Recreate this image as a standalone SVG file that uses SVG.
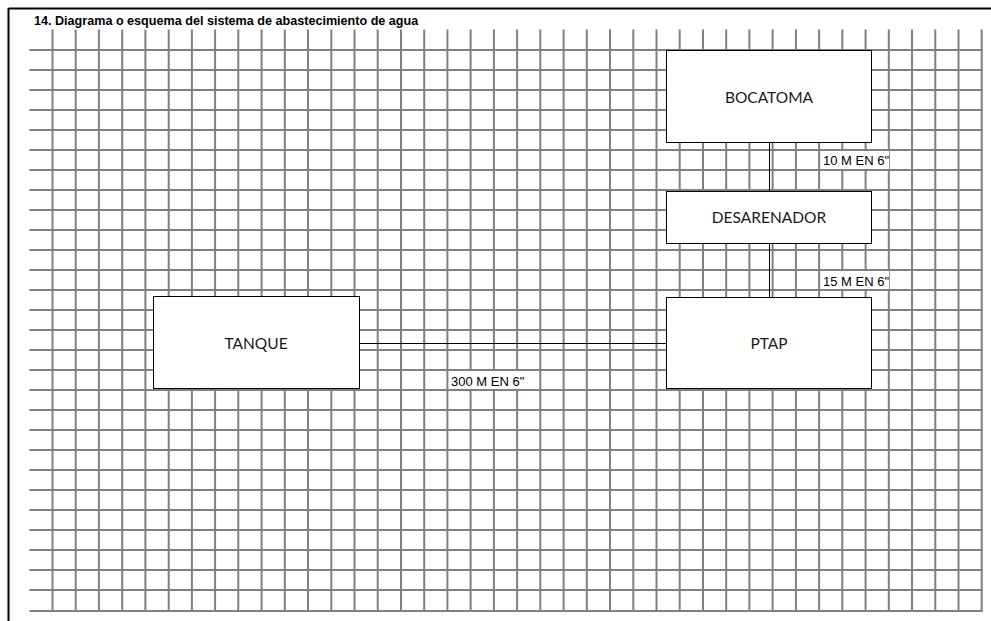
<svg xmlns="http://www.w3.org/2000/svg" width="991" height="621" viewBox="0 0 991 621">
<style>
.grid{stroke:#808080;stroke-width:2;fill:none}
.frame{stroke:#000;stroke-width:2;fill:none}
.box{fill:#fff;stroke:#000;stroke-width:1}
.lbl{fill:#fff;stroke:none}
.nt{font-family:Lato,"Open Sans",sans-serif;font-size:15.5px;fill:#1a1a1a;text-anchor:middle}
.et{font-family:"Liberation Sans",Arial,sans-serif;font-size:13px;fill:#000}
.title{font-family:"Liberation Sans",Arial,sans-serif;font-size:12.6px;font-weight:bold;fill:#000}
.conn{stroke:#000;stroke-width:1;fill:none}
</style>
<rect width="991" height="621" fill="#fff"/>
<g id="grid" class="grid">
<path d="M52.5 29.5V611.5M75.7 29.5V611.5M98.9 29.5V611.5M122.2 29.5V611.5M145.4 29.5V611.5M168.7 29.5V611.5M191.9 29.5V611.5M215.1 29.5V611.5M238.3 29.5V611.5M261.6 29.5V611.5M284.8 29.5V611.5M308 29.5V611.5M331.3 29.5V611.5M354.5 29.5V611.5M377.7 29.5V611.5M401 29.5V611.5M424.2 29.5V611.5M447.4 29.5V611.5M470.6 29.5V611.5M493.9 29.5V611.5M517.1 29.5V611.5M540.3 29.5V611.5M563.6 29.5V611.5M586.8 29.5V611.5M610 29.5V611.5M633.3 29.5V611.5M656.5 29.5V611.5M679.7 29.5V611.5M703 29.5V611.5M726.2 29.5V611.5M749.4 29.5V611.5M772.6 29.5V611.5M795.9 29.5V611.5M819.1 29.5V611.5M842.3 29.5V611.5M865.6 29.5V611.5M888.8 29.5V611.5M912 29.5V611.5M935.3 29.5V611.5M958.5 29.5V611.5M981.7 29.5V611.5"/>
<path d="M29.5 50H982.7M29.5 70H982.7M29.5 90H982.7M29.5 110H982.7M29.5 130H982.7M29.5 150H982.7M29.5 170H982.7M29.5 190H982.7M29.5 210H982.7M29.5 230H982.7M29.5 250H982.7M29.5 270H982.7M29.5 290H982.7M29.5 310H982.7M29.5 330H982.7M29.5 350H982.7M29.5 370H982.7M29.5 390H982.7M29.5 410H982.7M29.5 430H982.7M29.5 450H982.7M29.5 470H982.7M29.5 490H982.7M29.5 510H982.7M29.5 530H982.7M29.5 550H982.7M29.5 570H982.7M29.5 590H982.7M29.5 611H982.7"/>
</g>
<g id="frame" class="frame">
<path d="M8.5 8.5H991M8.5 8V621"/>
</g>
<text id="title" class="title" x="34" y="25">14. Diagrama o esquema del sistema de abastecimiento de agua</text>
<g id="connectors">
<path class="conn" d="M769.5 142.5V191M769.5 243.5V297.5M359.5 343.5H666.5"/>
<g id="label-10">
<rect class="lbl" x="821" y="151" width="68" height="18"/>
<text class="et" x="823" y="165">10 M EN 6"</text>
</g>
<g id="label-15">
<rect class="lbl" x="821" y="271" width="68" height="18"/>
<text class="et" x="823" y="286">15 M EN 6"</text>
</g>
<g id="label-300">
<rect class="lbl" x="449" y="371" width="90" height="18"/>
<text class="et" x="451" y="386">300 M EN 6"</text>
</g>
</g>
<g id="bocatoma">
<rect class="box" x="666.5" y="50.5" width="205" height="92"/>
<text class="nt" x="769" y="102.5">BOCATOMA</text>
</g>
<g id="desarenador">
<rect class="box" x="666.5" y="191.5" width="205" height="52"/>
<text class="nt" x="769" y="223">DESARENADOR</text>
</g>
<g id="ptap">
<rect class="box" x="666.5" y="297.5" width="205" height="91"/>
<text class="nt" x="769" y="348.5">PTAP</text>
</g>
<g id="tanque">
<rect class="box" x="153.5" y="296.5" width="206" height="92"/>
<text class="nt" x="256" y="348.5">TANQUE</text>
</g>
</svg>
